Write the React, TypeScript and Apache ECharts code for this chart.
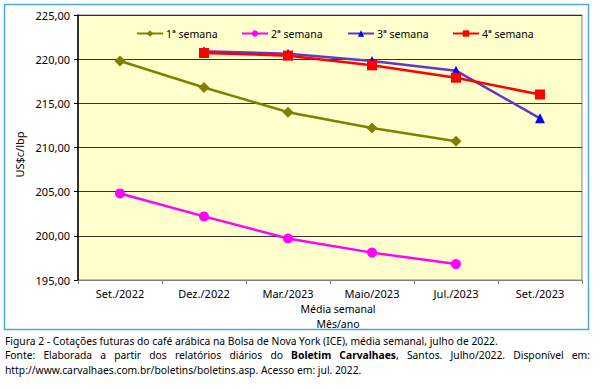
import React, { useEffect, useRef } from "react";
import * as echarts from "echarts";

const categories = ["Set./2022", "Dez./2022", "Mar./2023", "Maio/2023", "Jul./2023", "Set./2023"];
const semana1 = [219.8, 216.8, 214.0, 212.2, 210.7, null];
const semana2 = [204.8, 202.2, 199.7, 198.1, 196.8, null];
const semana3 = [null, 220.9, 220.6, 219.8, 218.7, 213.3];
const semana4 = [null, 220.7, 220.4, 219.3, 217.9, 216.0];
const seriesNames = ["1ª semana", "2ª semana", "3ª semana", "4ª semana"];
const yMin = 195;
const yMax = 225;
const yStep = 5;
const yAxisName = "US$c/lbp";
const xAxisName1 = "Média semanal";
const xAxisName2 = "Mês/ano";
const caption1 = "Figura 2 - Cotações futuras do café arábica na Bolsa de Nova York (ICE), média semanal, julho de 2022.";
const caption2Words: { t: string; b?: string }[] = [
  { t: "Fonte:" }, { t: "Elaborada" }, { t: "a" }, { t: "partir" }, { t: "dos" },
  { t: "relatórios" }, { t: "diários" }, { t: "do" }, { b: "Boletim", t: "" },
  { b: "Carvalhaes", t: "," }, { t: "Santos." }, { t: "Julho/2022." }, { t: "Disponível" }, { t: "em:" },
];
const caption3 = "http://www.carvalhaes.com.br/boletins/boletins.asp. Acesso em: jul. 2022.";

const FONT = '"Noto Sans", sans-serif';
const FS = 11;
const CFS = 10.3;

export default function App() {
  const ref = useRef<HTMLDivElement>(null);
  useEffect(() => {
    if (!ref.current) return;
    const chart = echarts.init(ref.current, null, { renderer: "svg" });

    const canvas = document.createElement("canvas");
    const ctx = canvas.getContext("2d")!;
    const measure = (s: string, bold: boolean) => {
      ctx.font = `${bold ? "bold " : ""}${CFS}px "Noto Sans"`;
      return ctx.measureText(s).width;
    };
    const widths = caption2Words.map((w) => (w.b ? measure(w.b, true) : 0) + measure(w.t, false));
    const lineLeft = 5;
    const lineRight = 590;
    const total = widths.reduce((a, b) => a + b, 0);
    const gap = (lineRight - lineLeft - total) / (caption2Words.length - 1);
    let cx = lineLeft;
    const line2: any[] = caption2Words.map((w, i) => {
      const el = {
        type: "text",
        x: cx,
        y: 355,
        style: {
          text: w.b ? `{b|${w.b}}${w.t}` : w.t,
          font: `${CFS}px ${FONT}`,
          fill: "#000",
          verticalAlign: "middle",
          rich: { b: { fontWeight: "bold", fontSize: CFS, fontFamily: FONT, fill: "#000" } },
        },
      };
      cx += widths[i] + gap;
      return el;
    });

    const legendLefts = [136, 241, 347, 452];
    const mk = (name: string, data: (number | null)[], symbol: string, lineColor: string, markColor: string, size: number) => ({
      name,
      type: "line",
      data,
      symbol,
      symbolSize: size,
      showSymbol: true,
      connectNulls: false,
      lineStyle: { color: lineColor, width: 2.5 },
      itemStyle: { color: markColor },
      emphasis: { disabled: true },
    });

    chart.setOption({
      animation: false,
      textStyle: { fontFamily: FONT },
      grid: {
        left: 78,
        top: 15,
        width: 504,
        height: 265,
        show: true,
        backgroundColor: "#FFFFCC",
        borderColor: "#808080",
        borderWidth: 1,
      },
      legend: seriesNames.map((n, i) => ({
        data: [n],
        left: legendLefts[i],
        top: 28,
        itemWidth: 26,
        itemHeight: 8,
        itemGap: 0,
        padding: 0,
        textStyle: { fontSize: 10.5, color: "#000", fontFamily: FONT, padding: [0, 0, 0, -2] },
      })),
      xAxis: {
        type: "category",
        data: categories,
        boundaryGap: true,
        axisLine: { lineStyle: { color: "#808080", width: 1 } },
        axisTick: { show: true, length: 4, lineStyle: { color: "#808080" } },
        axisLabel: { color: "#000", fontSize: FS, fontFamily: FONT, margin: 8 },
      },
      yAxis: {
        type: "value",
        min: yMin,
        max: yMax,
        interval: yStep,
        name: yAxisName,
        nameLocation: "middle",
        nameGap: 46,
        nameTextStyle: { color: "#000", fontSize: FS, fontFamily: FONT, padding: [0, 14, 0, 0] },
        axisLine: { show: true, lineStyle: { color: "#000", width: 1.5 } },
        axisTick: { show: true, length: 4, lineStyle: { color: "#000" } },
        axisLabel: {
          color: "#000",
          fontSize: FS,
          fontFamily: FONT,
          margin: 8,
          formatter: (v: number) => v.toFixed(2).replace(".", ","),
        },
        splitLine: { show: true, lineStyle: { color: "#333", width: 1 } },
      },
      graphic: [
        {
          type: "rect",
          shape: { x: 4.5, y: 4.5, width: 584, height: 325 },
          style: { fill: "none", stroke: "#4FA8DB", lineWidth: 1.5 },
          z: -10,
        },
        {
          type: "text",
          x: 338,
          y: 309,
          style: { text: xAxisName1, font: `10.5px ${FONT}`, fill: "#000", align: "center", verticalAlign: "middle" },
        },
        {
          type: "text",
          x: 338,
          y: 323.5,
          style: { text: xAxisName2, font: `10.5px ${FONT}`, fill: "#000", align: "center", verticalAlign: "middle" },
        },
        {
          type: "text",
          x: 5,
          y: 341,
          style: { text: caption1, font: `${CFS}px ${FONT}`, fill: "#000", verticalAlign: "middle" },
        },
        ...line2,
        {
          type: "text",
          x: 5,
          y: 370,
          style: { text: caption3, font: `${CFS}px ${FONT}`, fill: "#000", verticalAlign: "middle" },
        },
      ],
      series: [
        mk(seriesNames[0], semana1, "diamond", "#808000", "#808000", 11),
        mk(seriesNames[1], semana2, "circle", "#FF00FF", "#FF00FF", 10),
        mk(seriesNames[2], semana3, "triangle", "#6633CC", "#0000FF", 10),
        mk(seriesNames[3], semana4, "rect", "#FF0000", "#FF0000", 10),
      ],
    });
    return () => chart.dispose();
  }, []);
  return (
    <div
      ref={ref}
      style={{ position: "absolute", left: 0, top: 0, width: 601, height: 389, background: "#fff" }}
    />
  );
}
